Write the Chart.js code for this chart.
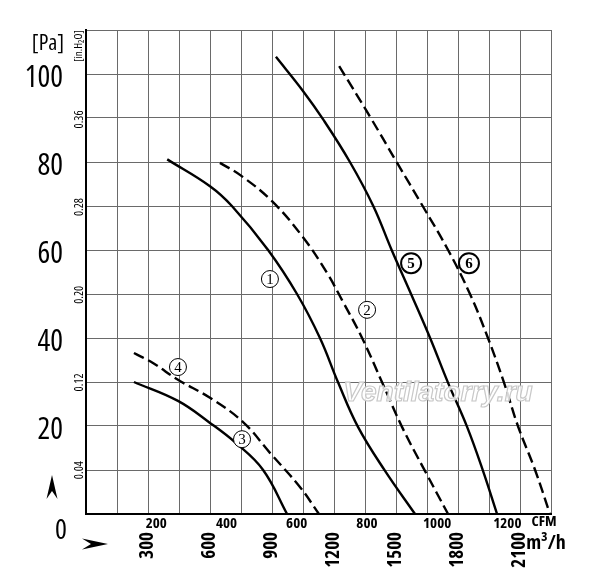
<!DOCTYPE html>
<html><head><meta charset="utf-8">
<script src="https://cdn.jsdelivr.net/npm/chart.js@4.4.1/dist/chart.umd.min.js"></script>
<style>html,body{margin:0;padding:0;background:#fff;overflow:hidden}canvas{display:block}</style>
</head><body>
<canvas id="c" width="600" height="586"></canvas>
<script>
// ---- data ----
const M3H_PER_CFM = 1.699;
const PA_PER_INH2O = 249.09;
const X_MAX_M3H = 2250;
const Y_MAX_PA = 110;
const m3hTickLabels = [300, 600, 900, 1200, 1500, 1800, 2100];
const cfmTickLabels = [200, 400, 600, 800, 1000, 1200];
const paTickLabels = [20, 40, 60, 80, 100];
const inH2OTickLabels = [0.04, 0.12, 0.20, 0.28, 0.36];

const curve1Flow = [393, 600, 706, 881, 1021, 1132, 1219, 1316, 1447, 1592];
const curve1Pa   = [80.6, 74.5, 70, 60, 50, 40, 30, 19.8, 9.8, 0];
const curve2Flow = [648, 750, 900, 1050, 1166, 1239, 1336, 1432, 1529, 1640, 1752];
const curve2Pa   = [79.8, 76.9, 71.1, 62.9, 54.8, 48.6, 40, 30, 19.8, 9.8, 0];
const curve3Flow = [232, 445, 600, 726, 857, 973];
const curve3Pa   = [30, 25.7, 20.7, 16.1, 10, 0];
const curve4Flow = [232, 324, 445, 600, 760, 890, 1036, 1127];
const curve4Pa   = [36.6, 34.3, 30.5, 26.4, 20.9, 13.9, 6.1, 0];
const curve5Flow = [919, 1049, 1150, 1277, 1390, 1479, 1568, 1665, 1752, 1844, 1921, 1989];
const curve5Pa   = [103.9, 96.2, 89.5, 80, 70, 60, 50.5, 40, 29.8, 19.8, 9.8, 0];
const curve6Flow = [1225, 1378, 1503, 1629, 1752, 1858, 1945, 2023, 2090, 2173, 2245];
const curve6Pa   = [101.8, 90, 80, 70, 60, 50, 40, 29.8, 20, 10, 0];

const curveNames = ['1', '2', '3', '4', '5', '6'];
const curveDashed = [false, true, false, true, false, true];
const labelFlow = [890, 1360, 755, 445, 1573, 1853];
const labelPa   = [53.4, 46.4, 17, 33.4, 57, 57];
const labelBold = [false, false, false, false, true, true];

const COND = "'Open Sans', 'DejaVu Sans', sans-serif";

const flows = [curve1Flow, curve2Flow, curve3Flow, curve4Flow, curve5Flow, curve6Flow];
const pas = [curve1Pa, curve2Pa, curve3Pa, curve4Pa, curve5Pa, curve6Pa];

const datasets = flows.map((f, i) => ({
  label: curveNames[i],
  data: f.map((x, j) => ({ x: x, y: pas[i][j] })),
  borderColor: '#000',
  borderWidth: 2.4,
  borderDash: curveDashed[i] ? [11, 5] : [],
  pointRadius: 0,
  fill: false,
  tension: 0.4,
  xAxisID: 'x',
  yAxisID: 'y'
}));

const extras = {
  id: 'extras',
  afterDatasetsDraw(chart) {
    const ctx = chart.ctx;
    const xs = chart.scales.x, ys = chart.scales.y;
    ctx.save();
    // watermark
    ctx.font = "italic bold 28px 'Liberation Sans', sans-serif";
    ctx.textAlign = 'center';
    ctx.textBaseline = 'middle';
    ctx.lineWidth = 1.2;
    ctx.fillStyle = 'rgba(255,255,255,0.85)';
    ctx.strokeStyle = '#c8c8c8';
    ctx.fillText('Ventilatorry.ru', 438, 393);
    ctx.strokeText('Ventilatorry.ru', 438, 393);

    // circled labels
    labelFlow.forEach((f, i) => {
      const px = xs.getPixelForValue(f), py = ys.getPixelForValue(labelPa[i]);
      const r = labelBold[i] ? 10 : 8.5;
      ctx.beginPath();
      ctx.arc(px, py, r, 0, Math.PI * 2);
      ctx.fillStyle = '#fff';
      ctx.fill();
      ctx.lineWidth = labelBold[i] ? 2 : 1;
      ctx.strokeStyle = '#000';
      ctx.stroke();
      ctx.fillStyle = '#000';
      ctx.font = (labelBold[i] ? 'bold ' : '') + "15px 'Liberation Serif', serif";
      ctx.fillText(curveNames[i], px, py + 1);
    });

    // axis captions
    ctx.fillStyle = '#000';
    ctx.font = "condensed 22px " + COND;
    ctx.fillText('[Pa]', 48, 44);
    ctx.font = "condensed 28px " + COND;
    ctx.fillText('0', 61, 531);
    ctx.font = "bold condensed 15px " + COND;
    ctx.fillText('CFM', 544, 522);
    ctx.font = "bold condensed 20px " + COND;
    ctx.fillText('m³/h', 546, 543);
    ctx.save();
    ctx.translate(79, 46);
    ctx.rotate(-Math.PI / 2);
    ctx.font = "condensed 11px " + COND;
    ctx.fillText('[in.H₂O]', 0, 0);
    ctx.restore();

    // arrows
    ctx.beginPath();
    ctx.moveTo(52, 475); ctx.lineTo(57.5, 499); ctx.lineTo(52, 491); ctx.lineTo(46.5, 499); ctx.closePath();
    ctx.fill();
    ctx.beginPath();
    ctx.moveTo(108, 544); ctx.lineTo(82, 538.5); ctx.lineTo(91, 544); ctx.lineTo(82, 549.5); ctx.closePath();
    ctx.fill();
    ctx.restore();
  }
};

new Chart(document.getElementById('c'), {
  type: 'line',
  data: { datasets },
  options: {
    responsive: false,
    animation: false,
    devicePixelRatio: 1,
    layout: { padding: { top: 30, right: 49, left: 0, bottom: 0 } },
    plugins: { legend: { display: false }, tooltip: { enabled: false } },
    scales: {
      x: {
        type: 'linear', position: 'bottom', weight: 1,
        min: 0, max: X_MAX_M3H,
        grid: { color: '#6a6a6a', lineWidth: 1, drawTicks: false },
        border: { display: false },
        afterBuildTicks: s => {
          const t = [];
          for (let v = 0; v <= X_MAX_M3H; v += 150) t.push({ value: v });
          s.ticks = t;
        },
        ticks: {
          autoSkip: false, minRotation: 90, maxRotation: 90, padding: 2,
          color: '#000', font: { family: COND, size: 19, weight: 'bold condensed' },
          callback: v => m3hTickLabels.includes(v) ? String(v) : ''
        },
        afterFit: s => { s.height = 56; }
      },
      x2: {
        type: 'linear', position: 'bottom', weight: 0,
        min: 0, max: X_MAX_M3H / M3H_PER_CFM,
        grid: { display: false, drawTicks: false },
        border: { display: true, color: '#000', width: 2 },
        afterBuildTicks: s => { s.ticks = cfmTickLabels.map(v => ({ value: v })); },
        ticks: {
          autoSkip: false, maxRotation: 0, padding: 1,
          color: '#000', font: { family: COND, size: 15, weight: 'bold condensed' },
          callback: v => String(v)
        },
        afterFit: s => { s.height = 16; }
      },
      y: {
        type: 'linear', position: 'left', weight: 1,
        min: 0, max: Y_MAX_PA,
        grid: { color: '#6a6a6a', lineWidth: 1, drawTicks: false },
        border: { display: false },
        afterBuildTicks: s => {
          const t = [];
          for (let v = 0; v <= Y_MAX_PA; v += 10) t.push({ value: v });
          s.ticks = t;
        },
        ticks: {
          autoSkip: false, padding: 7, labelOffset: 4,
          color: '#000', font: { family: COND, size: 30, weight: 'condensed' },
          callback: v => paTickLabels.includes(v) ? String(v) : ''
        },
        afterFit: s => { s.width = 70; }
      },
      y2: {
        type: 'linear', position: 'left', weight: 0,
        min: 0, max: Y_MAX_PA / PA_PER_INH2O,
        grid: { display: false, drawTicks: false },
        border: { display: true, color: '#000', width: 2 },
        afterBuildTicks: s => { s.ticks = inH2OTickLabels.map(v => ({ value: v })); },
        ticks: {
          autoSkip: false, minRotation: 90, maxRotation: 90, padding: 6, labelOffset: -9,
          color: '#000', font: { family: COND, size: 12, weight: 'condensed' },
          callback: v => v.toFixed(2)
        },
        afterFit: s => { s.width = 16; }
      }
    }
  },
  plugins: [extras]
});
</script>
</body></html>
